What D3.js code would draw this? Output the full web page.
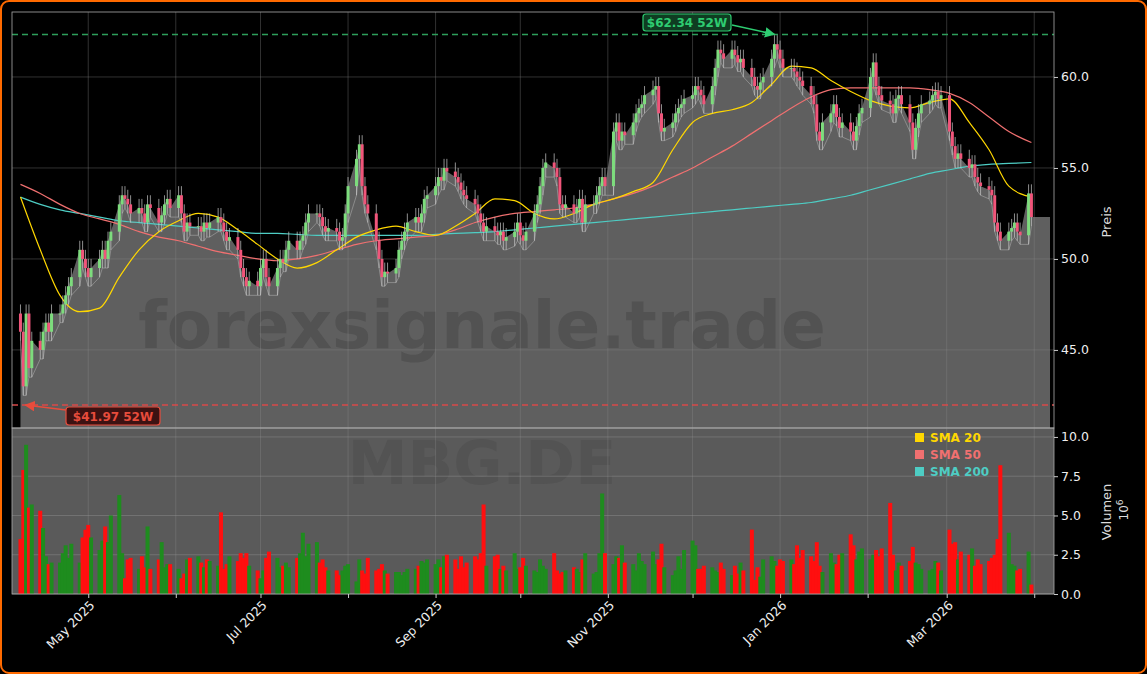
<!DOCTYPE html>
<html><head><meta charset="utf-8">
<script src="https://cdn.jsdelivr.net/npm/d3@7"></script>
<style>body{margin:0;background:#000}svg{display:block}</style></head>
<body><script>
const startDate = "2025-04-07";
const closes = [
46,43,47,44,45.5, 45,46,46.5,46,47, 47,47.5,48,48.5,49, 50.5,50,49.5,49,49.5,
50,50.5,50,51,51.5, 53,53.5,53.3,53,52.5, 52.8,52.5,52,53,52.8, 52,52.4,53,53.3,52.8,
53.5,52.5,51.5,52,51.8, 51.8,51.5,52,51.7,52, 52.3,52,51.5,51,51.2, 50.5,49.5,49,48.5,48.8,
48.5,49.5,50,49,48.5, 49.5,50,49.8,50.5,51, 50.5,51,51.3,52,52.5, 52.5,52.3,51.8,51.5,51.7,
51.5,51,51.2,52.5,54, 55.5,56.3,54,53,52.5, 51,50,49,49.3,49.2, 49.5,50.5,51,51.5,52,
52.3,52,52.5,53.3,53.5, 54,54.5,54.3,55,54.8, 54.5,54.2,53.8,53.5,53.3, 53,52.5,52,51.5,51.8,
51.5,51.3,51.5,51,51.2, 51.5,52,51.3,51,51.5, 52.5,53,54,55,55.3, 55,54.5,53,52.8,53,
52.5,52.8,53.3,52,53, 53,53.5,54,54.5,54, 57,57.5,56.5,57,56.8, 57.5,58,58.3,58.5,59,
59.3,59.5,58,57,57.2, 57.5,58,58.3,58.5,58.8, 59,59.5,59.3,59,58.5, 59.5,60.5,61.5,61.3,61,
61.5,61.2,60.8,61,60.5, 60,59.5,59.3,59.7,60, 61,61.8,61.5,61,60.5, 60.5,60.3,60,59.8,59.5,
59,58.5,57,56.5,57.5, 58,58.5,57.8,57.2,57.5, 57,56.5,57.3,58,58.3, 60,60.8,59.5,59,58.7,
58.5,58,58.8,59,58.5, 57.5,56,57.2,58,58.5, 58.7,59,59.2,58.8,59, 57,56.2,55.5,55.8,55.5,
55,55.2,54.5,54.2,54, 53.8,53.5,52,51.5,51, 51.5,51.7,52,51.5,51.3, 53.6,52.3];
const firstOpen = 47;
const wick = 0.5;
const volumes = [
3.5,7.9,9.5,5.5,5.7, 5.3,4.2,2.4,1.9,2.0, 2.0,2.6,3.1,2.3,3.2, 2.0,3.6,4.1,4.4,3.6,
2.8,3.4,4.3,3.3,5.0, 6.3,2.6,1.0,2.2,2.3, 1.6,2.4,1.7,4.3,1.6, 2.2,3.3,1.7,1.9,1.9,
1.6,1.0,1.3,2.2,2.3, 2.4,2.0,1.7,2.2,2.1, 1.8,5.2,1.6,1.9,2.4, 2.1,2.6,2.3,2.6,1.8,
1.5,1.0,1.5,2.3,2.7, 2.3,1.7,1.8,2.0,1.7, 2.3,2.6,3.9,2.4,3.2, 3.3,2.0,2.2,1.7,1.5,
1.5,1.2,1.5,1.8,1.9, 0.8,2.2,1.5,1.3,2.3, 1.5,1.6,1.9,1.5,1.3, 1.4,1.4,1.2,1.4,1.6,
1.6,1.8,2.1,2.0,2.2, 1.9,2.2,1.7,2.4,2.5, 2.2,1.6,2.4,1.7,2.0, 2.4,2.2,2.6,5.7,1.8,
2.4,2.5,1.6,1.8,1.5, 2.6,1.6,1.7,2.3,1.8, 1.5,1.4,2.2,1.8,1.6, 2.6,1.5,1.3,1.4,1.5,
1.7,1.6,1.4,2.2,2.6, 1.3,1.4,2.6,6.4,2.6, 1.9,2.4,2.3,3.1,2.0, 1.9,1.5,2.6,2.1,1.9,
2.7,1.9,2.2,3.2,1.7, 1.2,1.5,2.4,1.6,2.8, 3.4,3.1,1.6,1.6,1.8, 1.7,1.5,1.4,2.0,1.6,
1.2,1.8,1.3,2.0,1.5, 4.1,0.9,1.7,1.1,2.2, 2.4,2.1,1.8,2.2,2.1, 2.2,1.9,3.1,2.3,2.8,
2.4,2.1,3.3,1.8,1.4, 2.6,2.0,1.9,2.5,2.6, 3.8,3.1,2.2,2.7,2.9, 2.2,2.5,2.8,2.4,2.9,
5.8,2.5,1.5,2.0,1.8, 2.1,3.0,2.0,1.9,1.6, 1.5,1.6,2.1,2.0,1.5, 4.1,3.2,3.3,2.2,2.7,
2.5,2.9,1.8,2.2,1.9, 2.1,2.3,2.5,3.5,8.2, 3.9,1.9,1.8,1.5,1.6, 2.7,0.6];
// weekly SMA readings (one per week start)
const sma20 = [53.4,50.5,48,47.1,47.3,49,50.5,51.5,52.1,52.5,52.3,51.6,50.8,50,49.5,49.8,50.5,51.2,51.6,51.8,51.5,51.3,51.8,52.5,53.3,53.2,52.5,52.2,52.5,53,53.3,53.7,54.2,56,57.5,58,58.2,58.6,59.6,60.6,60.5,59.8,59.2,58.7,58.4,58.3,58.6,58.8,57.5,56,54,53.4];
const sma50 = [54.1,53.6,53,52.5,52.2,51.9,51.5,51.2,51,50.7,50.4,50.2,50,49.9,50,50.2,50.5,50.8,51,51.1,51.2,51.3,51.6,52,52.3,52.5,52.6,52.7,52.8,53,53.3,53.6,54,54.5,55,55.6,56.2,56.9,57.6,58.3,58.9,59.3,59.4,59.4,59.4,59.4,59.3,59.1,58.6,57.8,57,56.4];
const sma200 = [53.4,53,52.7,52.5,52.3,52.1,52,51.9,51.8,51.7,51.6,51.5,51.4,51.4,51.35,51.3,51.3,51.3,51.3,51.3,51.3,51.35,51.4,51.45,51.5,51.6,51.7,51.8,51.9,52,52.1,52.2,52.3,52.4,52.5,52.6,52.7,52.8,52.9,53,53.1,53.3,53.5,53.8,54.1,54.4,54.7,54.9,55.1,55.2,55.25,55.3];
const high52 = 62.34, low52 = 41.97;
const monthTicks = ["2025-05-01","2025-06-01","2025-07-01","2025-08-01","2025-09-01","2025-10-01","2025-11-01","2025-12-01","2026-01-01","2026-02-01","2026-03-01","2026-04-01"];
const priceTicks = [45,50,55,60];
const volTicks = [0,2.5,5,7.5,10];
const legendItems = [["SMA 20","#ffd700"],["SMA 50","#f07070"],["SMA 200","#4ecdc4"]];

const W=1147,H=674, L=12,R=1054, pT=12,pB=428, vB=594;
const parse=d3.utcParse("%Y-%m-%d");
const dates=[]; let d=parse(startDate);
while(dates.length<closes.length){const wd=d.getUTCDay(); if(wd>0&&wd<6)dates.push(new Date(d)); d=d3.utcDay.offset(d,1);}
const data=closes.map((c,i)=>{const o=i?closes[i-1]:firstOpen;return {date:dates[i],o,c,h:Math.max(o,c)+wick,l:Math.min(o,c)-wick,v:volumes[i]};});
const weekDates=sma20.map((_,k)=>dates[Math.min(k*5,dates.length-1)]);
weekDates[weekDates.length-1]=dates[dates.length-1];

const x=d3.scaleUtc().domain([parse("2025-04-04"),parse("2026-04-08")]).range([L,R]);
const y=d3.scaleLinear().domain([40.71,63.57]).range([pB,pT]);
const yv=d3.scaleLinear().domain([0,10.57]).range([vB,pB]);

const svg=d3.select("body").append("svg").attr("width",W).attr("height",H);
svg.append("rect").attr("x",1).attr("y",1).attr("width",W-2).attr("height",H-2).attr("rx",8).attr("fill","#000").attr("stroke","#ff6a00").attr("stroke-width",2);
svg.append("rect").attr("x",L).attr("y",pB).attr("width",R-L).attr("height",vB-pB).attr("fill","#5a5a5a");
svg.append("clipPath").attr("id","pc").append("rect").attr("x",L).attr("y",pT).attr("width",R-L).attr("height",pB-pT);
const mt=monthTicks.map(parse);
const areaData=data.concat([{date:x.invert(R-4),c:closes[closes.length-1]}]);
svg.append("path").attr("clip-path","url(#pc)").datum(areaData)
 .attr("d",d3.area().x(p=>x(p.date)).y0(pB).y1(p=>y(p.c))).attr("fill","#5f5f5f");
svg.append("path").datum(data).attr("d",d3.line().x(p=>x(p.date)).y(p=>y(p.l))).attr("fill","none").attr("stroke","#bbb").attr("stroke-width",0.8).attr("opacity",0.6);
// watermarks
svg.append("text").attr("x",482).attr("y",348).attr("text-anchor","middle").attr("font-family","DejaVu Sans").attr("font-weight","bold").attr("font-size",66).attr("fill","#525252").text("forexsignale.trade");
svg.append("text").attr("x",482).attr("y",484).attr("text-anchor","middle").attr("font-family","DejaVu Sans").attr("font-weight","bold").attr("font-size",60).attr("fill","#535353").text("MBG.DE");
// grids
const g=svg.append("g");
mt.forEach(t=>{g.append("line").attr("x1",x(t)).attr("x2",x(t)).attr("y1",pT).attr("y2",vB).attr("stroke","#888").attr("stroke-opacity",0.45).attr("stroke-width",0.8);});
priceTicks.forEach(t=>g.append("line").attr("x1",L).attr("x2",R).attr("y1",y(t)).attr("y2",y(t)).attr("stroke","#888").attr("stroke-opacity",0.45).attr("stroke-width",0.8));
volTicks.forEach(t=>g.append("line").attr("x1",L).attr("x2",R).attr("y1",yv(t)).attr("y2",yv(t)).attr("stroke","#999").attr("stroke-opacity",0.5).attr("stroke-width",0.8));
// SMAs
const sl=(arr,col)=>svg.append("path").datum(arr).attr("d",d3.line().x((v,k)=>x(weekDates[k])).y(v=>y(v)).curve(d3.curveMonotoneX)).attr("fill","none").attr("stroke",col).attr("stroke-width",1.2);
sl(sma200,"#4ecdc4");sl(sma50,"#f07070");sl(sma20,"#ffd700");
// candles
const cg=svg.append("g");
data.forEach(p=>{const cx=x(p.date);const up=p.c>=p.o;
 cg.append("line").attr("x1",cx).attr("x2",cx).attr("y1",y(p.h)).attr("y2",y(p.l)).attr("stroke","#ccc").attr("stroke-width",0.7);
 cg.append("rect").attr("x",cx-1.5).attr("width",3).attr("y",y(Math.max(p.o,p.c))).attr("height",Math.max(1,Math.abs(y(p.o)-y(p.c)))).attr("fill",up?"#7ddc7d":"#f0557a");});
// volume
data.forEach(p=>{svg.append("rect").attr("x",x(p.date)-2).attr("width",4).attr("y",yv(p.v)).attr("height",vB-yv(p.v)).attr("fill",p.c>=p.o?"#1e8c1e":"#ff0f0f");});
// 52w lines
svg.append("line").attr("x1",L).attr("x2",R).attr("y1",y(high52)).attr("y2",y(high52)).attr("stroke","#2e9e5b").attr("stroke-width",1.5).attr("stroke-dasharray","6,4");
svg.append("line").attr("x1",L).attr("x2",R).attr("y1",y(low52)).attr("y2",y(low52)).attr("stroke","#d94a4a").attr("stroke-width",1.5).attr("stroke-dasharray","6,4");
const defs=svg.append("defs");
[["ag","#2ecc71"],["ar","#e74c3c"]].forEach(([id,c])=>defs.append("marker").attr("id",id).attr("viewBox","0 0 10 10").attr("refX",9).attr("refY",5).attr("markerWidth",7).attr("markerHeight",7).attr("orient","auto").append("path").attr("d","M0,0L10,5L0,10z").attr("fill",c));
const hi=data.reduce((a,b)=>b.c>a.c?b:a), lo=data.reduce((a,b)=>b.c<a.c?b:a);
svg.append("line").attr("x1",732).attr("y1",25).attr("x2",x(hi.date)).attr("y2",y(high52)).attr("stroke","#2ecc71").attr("stroke-width",1.5).attr("marker-end","url(#ag)");
svg.append("rect").attr("x",643).attr("y",14).attr("width",88).attr("height",17).attr("rx",3).attr("fill","#0f3d22").attr("stroke","#2ecc71").attr("stroke-width",1.2);
svg.append("text").attr("x",687).attr("y",27).attr("text-anchor","middle").attr("font-family","DejaVu Sans").attr("font-weight","bold").attr("font-size",12).attr("fill","#2ecc71").text("$62.34 52W");
svg.append("line").attr("x1",66).attr("y1",410).attr("x2",x(lo.date)+2).attr("y2",y(low52)).attr("stroke","#e74c3c").attr("stroke-width",1.5).attr("marker-end","url(#ar)");
svg.append("rect").attr("x",66).attr("y",407).attr("width",94).attr("height",18).attr("rx",3).attr("fill","#3d1212").attr("stroke","#e74c3c").attr("stroke-width",1.2);
svg.append("text").attr("x",113).attr("y",421).attr("text-anchor","middle").attr("font-family","DejaVu Sans").attr("font-weight","bold").attr("font-size",12).attr("fill","#e74c3c").text("$41.97 52W");
// frames
svg.append("rect").attr("x",L).attr("y",pT).attr("width",R-L).attr("height",pB-pT).attr("fill","none").attr("stroke","#aaa").attr("stroke-width",0.8);
svg.append("rect").attr("x",L).attr("y",pB).attr("width",R-L).attr("height",vB-pB).attr("fill","none").attr("stroke","#aaa").attr("stroke-width",0.8);
// axes
const ay=svg.append("g").attr("transform",`translate(${R},0)`).call(d3.axisRight(y).tickValues(priceTicks).tickFormat(d3.format(".1f")).tickSize(4));
const av=svg.append("g").attr("transform",`translate(${R},0)`).call(d3.axisRight(yv).tickValues(volTicks).tickFormat(d3.format(".1f")).tickSize(4));
const ax=svg.append("g").attr("transform",`translate(0,${vB})`).call(d3.axisBottom(x).tickValues(mt).tickFormat((t,i)=>i%2===0?d3.utcFormat("%b %Y")(t):"").tickSize(4));
[ay,av,ax].forEach(a=>{a.select(".domain").remove();a.selectAll("line").attr("stroke","#ccc");a.selectAll("text").attr("fill","#eee").attr("font-family","DejaVu Sans").attr("font-size",12.5);});
ax.selectAll("text").attr("text-anchor","end").attr("dx","-0.3em").attr("dy","0.5em").attr("transform","rotate(-45)");
svg.append("text").attr("transform","translate(1111,222) rotate(-90)").attr("text-anchor","middle").attr("font-family","DejaVu Sans").attr("font-size",13).attr("fill","#ddd").text("Preis");
svg.append("text").attr("transform","translate(1111,512) rotate(-90)").attr("text-anchor","middle").attr("font-family","DejaVu Sans").attr("font-size",13).attr("fill","#ddd").text("Volumen");
const t6=svg.append("text").attr("transform","translate(1128,510) rotate(-90)").attr("text-anchor","middle").attr("font-family","DejaVu Sans").attr("font-size",12).attr("fill","#ddd");
t6.append("tspan").text("10");t6.append("tspan").attr("dy",-5).attr("font-size",9).text("6");
legendItems.forEach(([n,c],i)=>{svg.append("rect").attr("x",915).attr("y",433+i*17).attr("width",9).attr("height",9).attr("fill",c);
 svg.append("text").attr("x",930).attr("y",442+i*17).attr("font-family","DejaVu Sans").attr("font-weight","bold").attr("font-size",12).attr("fill",c).text(n);});
</script></body></html>
